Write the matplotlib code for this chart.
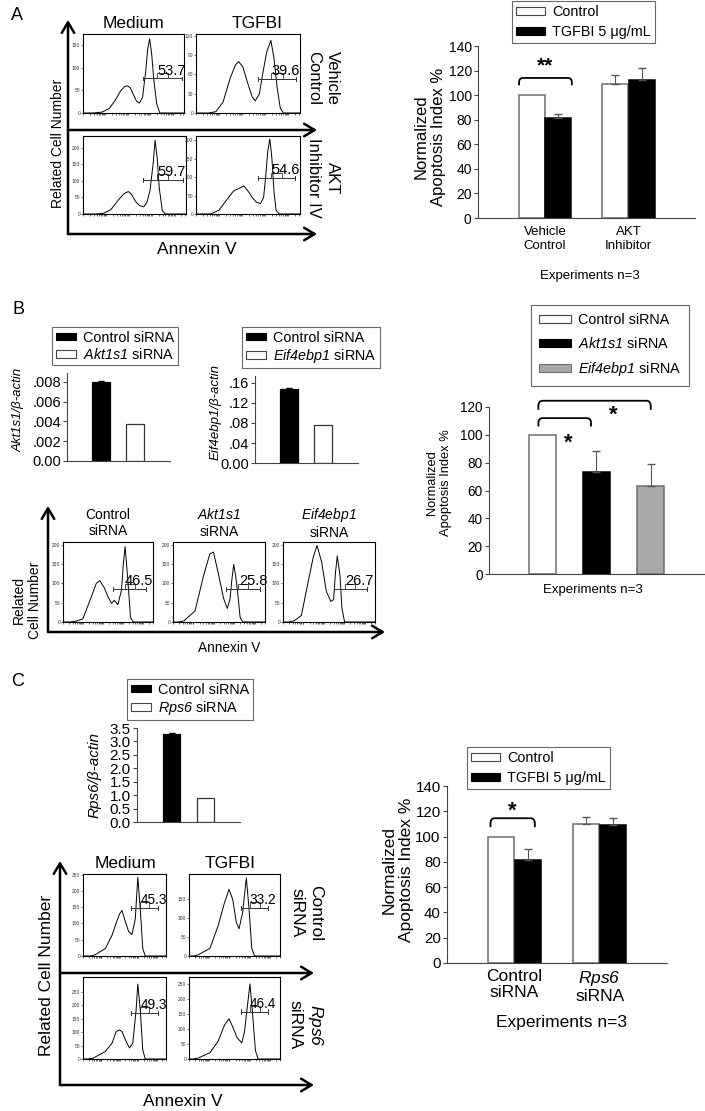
import matplotlib
matplotlib.use("Agg")
import matplotlib.pyplot as plt
import numpy as np
from matplotlib.patches import FancyArrowPatch, Patch, PathPatch, Rectangle
from matplotlib.path import Path

plt.rcParams.update({
    "font.family": "Liberation Sans",
    "mathtext.fontset": "custom",
    "mathtext.rm": "Liberation Sans",
    "mathtext.it": "Liberation Sans:italic",
    "mathtext.sf": "Liberation Sans:italic",
    "mathtext.bf": "Liberation Sans:bold",
    "axes.linewidth": 0.8,
})

# ---- flow histograms (x = fraction of Annexin V axis, y = cell count) ----
a_med_veh_x = [0, .10, .19, .26, .32, .37, .41, .44, .47, .50, .53, .56, .59, .62, .64, .66, .68, .70, .73, .76, 1]
a_med_veh_y = [0, 0, 2, 10, 28, 48, 58, 60, 55, 40, 26, 22, 35, 90, 140, 163, 130, 75, 20, 0, 0]
a_tgf_veh_x = [0, .12, .19, .26, .33, .38, .41, .45, .50, .54, .57, .61, .64, .68, .72, .75, .78, .81, .84, 1]
a_tgf_veh_y = [0, 0, 2, 17, 55, 75, 80, 72, 45, 25, 19, 30, 60, 95, 113, 85, 40, 8, 0, 0]
a_med_akt_x = [0, .12, .20, .27, .35, .40, .44, .47, .51, .55, .59, .62, .65, .68, .70, .72, .74, .77, .80, 1]
a_med_akt_y = [0, 0, 2, 13, 45, 62, 68, 60, 38, 25, 22, 35, 70, 150, 223, 170, 80, 10, 0, 0]
a_tgf_akt_x = [0, .14, .22, .30, .36, .42, .46, .50, .54, .58, .62, .65, .67, .69, .71, .73, .75, .77, .80, 1]
a_tgf_akt_y = [0, 0, 10, 40, 62, 70, 76, 62, 45, 32, 28, 45, 100, 170, 203, 150, 60, 10, 0, 0]

b_ctrl_x = [0, .08, .14, .22, .30, .37, .41, .46, .50, .54, .57, .61, .65, .67, .69, .72, .75, .78, 1]
b_ctrl_y = [0, 0, 2, 8, 56, 100, 107, 88, 65, 48, 56, 45, 83, 150, 195, 110, 12, 0, 0]
b_akt_x = [0, .06, .12, .24, .33, .40, .44, .49, .55, .59, .62, .64, .66, .68, .70, .73, .76, 1]
b_akt_y = [0, 0, 3, 29, 118, 176, 181, 128, 61, 35, 60, 110, 149, 120, 83, 11, 0, 0]
b_eif_x = [0, .06, .12, .20, .27, .33, .37, .42, .47, .52, .55, .57, .59, .62, .64, .67, 1]
b_eif_y = [0, 0, 3, 17, 100, 169, 198, 155, 80, 53, 58, 127, 171, 119, 36, 0, 0]

c_med_ctrl_x = [0, .08, .14, .27, .35, .41, .44, .47, .50, .55, .59, .63, .66, .69, .72, .75, 1]
c_med_ctrl_y = [0, 0, 3, 23, 64, 109, 129, 140, 114, 75, 66, 114, 242, 145, 23, 0, 0]
c_tgf_ctrl_x = [0, .05, .10, .23, .32, .39, .44, .48, .52, .55, .59, .63, .66, .69, .72, 1]
c_tgf_ctrl_y = [0, 0, 3, 20, 80, 141, 176, 150, 89, 72, 116, 207, 124, 20, 0, 0]
c_med_rps_x = [0, .06, .12, .27, .35, .40, .44, .47, .52, .56, .60, .64, .66, .69, .72, .75, 1]
c_med_rps_y = [0, 0, 3, 28, 59, 102, 108, 102, 65, 41, 59, 183, 279, 183, 34, 0, 0]
c_tgf_rps_x = [0, .05, .10, .23, .32, .39, .44, .48, .53, .58, .61, .65, .67, .70, .73, .76, 1]
c_tgf_rps_y = [0, 0, 3, 21, 59, 113, 134, 107, 70, 54, 91, 198, 250, 145, 28, 0, 0]

# gates: (start, end, height) and gate percentages
gates_a = [(.59, .98, 76), (.60, .96, 53), (.58, .97, 103), (.60, .95, 97)]
pct_a = ["53.7", "39.6", "59.7", "54.6"]
gates_b = [(.56, .92, 85), (.58, .95, 85), (.55, .91, 85)]
pct_b = ["46.5", "25.8", "26.7"]
gates_c = [(.58, .90, 148), (.57, .87, 128), (.58, .90, 172), (.57, .87, 158)]
pct_c = ["45.3", "33.2", "49.3", "46.4"]

# ---- bar data ----
a_groups = ["Vehicle\nControl", "AKT\nInhibitor"]
a_ctrl = [100, 109]
a_ctrl_err = [0, 7]
a_tgfbi = [81, 112.5]
a_tgfbi_err = [4, 10]

b_akt1s1_expr = [0.008, 0.0037]
b_akt1s1_err = [0.0001, 0]
b_eif_expr = [0.148, 0.076]
b_eif_err = [0.003, 0]
b_apop = [100, 73.5, 63.5]
b_apop_err = [0, 15, 15.5]

c_rps6_expr = [3.28, 0.88]
c_rps6_err = [0.03, 0]
c_groups = ["Control\nsiRNA", "$\\mathsf{Rps6}$\nsiRNA"]
c_ctrl = [100, 110]
c_ctrl_err = [0, 5.5]
c_tgfbi = [81.5, 109]
c_tgfbi_err = [8.5, 6]

W, H = 705, 1111
fig = plt.figure(figsize=(W / 100, H / 100), dpi=100)
GRAY_EDGE = "#6e6e6e"


def box(x0, y0, x1, y1):
    return [x0 / W, 1 - y1 / H, (x1 - x0) / W, (y1 - y0) / H]


def ftext(x, y, s, **kw):
    kw.setdefault("ha", "center")
    kw.setdefault("va", "center")
    fig.text(x / W, 1 - y / H, s, **kw)


def arrow(x0, y0, x1, y1, lw=1.8):
    fig.add_artist(FancyArrowPatch(
        (x0 / W, 1 - y0 / H), (x1 / W, 1 - y1 / H), transform=fig.transFigure,
        arrowstyle="->,head_length=0.5,head_width=0.3", mutation_scale=15,
        lw=lw, color="black", shrinkA=0, shrinkB=0))


def histo(rect, xs, ys, ytop, yticks, gate, pct, fs):
    ax = fig.add_axes(box(*rect))
    ax.plot(xs, ys, color="black", lw=0.7)
    ax.set_xlim(0, 1)
    ax.set_ylim(0, ytop)
    ax.set_yticks(yticks)
    ax.tick_params(axis="y", labelsize=3.5, length=1.5, width=0.4, pad=0.5, labelcolor="#333")
    dec = [(d + np.log10(k)) / 4.5 for d in range(5) for k in range(1, 10)]
    ax.set_xticks([v for v in dec if v <= 1])
    ax.tick_params(axis="x", labelbottom=False, length=1.3, width=0.4)
    lo, hi, gy = gate
    cap = ytop * 0.025
    ax.plot([lo, hi], [gy, gy], color="#333", lw=0.7)
    ax.plot([lo, lo], [gy - cap, gy + cap], color="#333", lw=0.7)
    ax.plot([hi, hi], [gy - cap, gy + cap], color="#333", lw=0.7)
    mid = (lo + hi) / 2
    ax.add_patch(Rectangle((mid - 0.055, gy), 0.11, ytop * 0.07, fill=False, lw=0.6, ec="#333"))
    ax.text(mid - 0.05, gy + ytop * 0.01, pct, fontsize=fs, ha="left", va="bottom")
    return ax


def err_up(ax, xs, ys, errs, color="#555", cap=3):
    keep = [i for i, e in enumerate(errs) if e > 0]
    if keep:
        ax.errorbar([xs[i] for i in keep], [ys[i] for i in keep],
                    yerr=[[0] * len(keep), [errs[i] for i in keep]],
                    fmt="none", ecolor=color, capsize=cap, lw=0.8)


def style_bars(ax, fs):
    for s in ("top", "right"):
        ax.spines[s].set_visible(False)
    for s in ("left", "bottom"):
        ax.spines[s].set_color("#444")
    ax.tick_params(axis="y", labelsize=fs, length=3, width=0.8, color="#444", pad=1.5)
    ax.tick_params(axis="x", length=0)


def bracket(ax, x0, x1, ytop, yhook, rx):
    ry = (ytop - yhook) * 0.6
    verts = [(x0, yhook), (x0, ytop - ry), (x0, ytop), (x0 + rx, ytop),
             (x1 - rx, ytop), (x1, ytop), (x1, ytop - ry), (x1, yhook)]
    codes = [Path.MOVETO, Path.LINETO, Path.CURVE3, Path.CURVE3,
             Path.LINETO, Path.CURVE3, Path.CURVE3, Path.LINETO]
    ax.add_patch(PathPatch(Path(verts, codes), fill=False, lw=1.3, ec="black", clip_on=False))


def legend(handles, labels, x, y, fs, spacing, hlen, pad):
    leg = fig.legend(handles, labels, loc="upper left", bbox_to_anchor=(x / W, 1 - y / H),
                     fontsize=fs, frameon=True, fancybox=False, edgecolor="#444",
                     handlelength=hlen, handleheight=0.45, labelspacing=spacing,
                     borderpad=pad, handletextpad=0.5, borderaxespad=0)
    leg.get_frame().set_linewidth(0.8)


white = Patch(facecolor="white", edgecolor="#444", lw=0.8)
black = Patch(facecolor="black", edgecolor="black", lw=0.8)
grey = Patch(facecolor="#a8a8a8", edgecolor=GRAY_EDGE, lw=0.8)

# ================= Panel A =================
ftext(17, 15, "A", fontsize=13)
histo((83, 34, 184, 113), a_med_veh_x, a_med_veh_y, 174, [0, 50, 100, 150], gates_a[0], pct_a[0], 10.5)
histo((196, 34, 300, 113), a_tgf_veh_x, a_tgf_veh_y, 123, [0, 30, 60, 90, 120], gates_a[1], pct_a[1], 10.5)
histo((83, 136, 186, 214), a_med_akt_x, a_med_akt_y, 236, [0, 50, 100, 150, 200], gates_a[2], pct_a[2], 10.5)
histo((196, 136, 300, 214), a_tgf_akt_x, a_tgf_akt_y, 211, [0, 50, 100, 150, 200], gates_a[3], pct_a[3], 10.5)
arrow(68, 234, 68, 20)
arrow(68, 130, 317, 130)
arrow(68, 234, 317, 234)
ftext(133, 24, "Medium", fontsize=12.5)
ftext(257, 24, "TGFBI", fontsize=12.5)
ftext(323, 78, "Vehicle\nControl", fontsize=12, rotation=270, linespacing=1.3)
ftext(323, 178, "AKT\nInhibitor IV", fontsize=12, rotation=270, linespacing=1.3)
ftext(58, 143, "Related Cell Number", fontsize=10, rotation=90)
ftext(197, 250, "Annexin V", fontsize=12.5)

ax = fig.add_axes(box(478, 46, 695, 218))
xa = np.arange(len(a_groups))
ax.bar(xa - 0.16, a_ctrl, 0.31, color="white", edgecolor=GRAY_EDGE, lw=1.1)
ax.bar(xa + 0.16, a_tgfbi, 0.31, color="black", edgecolor="black", lw=1.1)
err_up(ax, list(xa - 0.16), a_ctrl, a_ctrl_err)
err_up(ax, list(xa + 0.16), a_tgfbi, a_tgfbi_err)
ax.set_xlim(-0.80, 1.79)
ax.set_ylim(0, 140)
ax.set_yticks(range(0, 141, 20))
ax.set_xticks(xa)
ax.set_xticklabels(a_groups, fontsize=9.5, linespacing=1.2)
style_bars(ax, 10)
ax.tick_params(axis="x", pad=6)
bracket(ax, -0.31, 0.32, 114, 108, 0.05)
ax.text(0.0, 124, "**", fontsize=15, ha="center", va="center", fontweight="bold")
ftext(430, 137, "Normalized\nApoptosis Index %", fontsize=12, rotation=90, linespacing=1.15)
ftext(590, 276, "Experiments n=3", fontsize=9.5)
legend([white, black], ["Control", "TGFBI 5 μg/mL"], 512, 1, 10.4, 0.4, 2.0, 0.3)

# ================= Panel B =================
ftext(18, 310, "B", fontsize=13)

ax = fig.add_axes(box(67, 373, 170, 461))
ax.bar([0, 1], b_akt1s1_expr, 0.53, color=["black", "white"], edgecolor=["black", "#333"], lw=0.9)
err_up(ax, [0, 1], b_akt1s1_expr, b_akt1s1_err, color="black", cap=2)
ax.set_xlim(-1.0, 2.03)
ax.set_ylim(0, 0.0089)
ax.set_yticks([0, 0.002, 0.004, 0.006, 0.008])
ax.set_yticklabels(["0.00", ".002", ".004", ".006", ".008"])
ax.set_xticks([])
style_bars(ax, 10.5)
ftext(19, 410, "Akt1s1/β-actin", fontsize=9.5, rotation=90, fontstyle="italic")
legend([black, white], ["Control siRNA", "$\\mathsf{Akt1s1}$ siRNA"], 52, 327, 10.4, 0.15, 1.4, 0.25)

ax = fig.add_axes(box(255, 376, 358, 463))
ax.bar([0, 1], b_eif_expr, 0.53, color=["black", "white"], edgecolor=["black", "#333"], lw=0.9)
err_up(ax, [0, 1], b_eif_expr, b_eif_err, color="black", cap=2)
ax.set_xlim(-1.0, 2.03)
ax.set_ylim(0, 0.174)
ax.set_yticks([0, 0.04, 0.08, 0.12, 0.16])
ax.set_yticklabels(["0.00", ".04", ".08", ".12", ".16"])
ax.set_xticks([])
style_bars(ax, 10.5)
ftext(216, 412, "Eif4ebp1/β-actin", fontsize=9.5, rotation=90, fontstyle="italic")
legend([black, white], ["Control siRNA", "$\\mathsf{Eif4ebp1}$ siRNA"], 242, 327, 10.4, 0.15, 1.4, 0.25)

histo((63, 542, 153, 622), b_ctrl_x, b_ctrl_y, 207, [0, 50, 100, 150, 200], gates_b[0], pct_b[0], 10.5)
histo((173, 542, 265, 622), b_akt_x, b_akt_y, 207, [0, 50, 100, 150, 200], gates_b[1], pct_b[1], 10.5)
histo((283, 542, 375, 622), b_eif_x, b_eif_y, 207, [0, 50, 100, 150, 200], gates_b[2], pct_b[2], 10.5)
ftext(108, 523, "Control\nsiRNA", fontsize=10, linespacing=1.2)
ftext(219, 523, "$\\mathsf{Akt1s1}$\nsiRNA", fontsize=10, linespacing=1.2)
ftext(329, 523, "$\\mathsf{Eif4ebp1}$\nsiRNA", fontsize=10, linespacing=1.2)
arrow(48, 632, 48, 506)
arrow(48, 632, 385, 632)
ftext(27, 600, "Related\nCell Number", fontsize=10, rotation=90, linespacing=1.15)
ftext(229, 648, "Annexin V", fontsize=9.8)

ax = fig.add_axes(box(489, 407, 705, 574))
xb = np.arange(len(b_apop))
ax.bar(xb, b_apop, 0.5, color=["white", "black", "#a8a8a8"], edgecolor=[GRAY_EDGE, "black", GRAY_EDGE], lw=1.1)
err_up(ax, list(xb), b_apop, b_apop_err)
ax.set_xlim(-0.98, 3.0)
ax.set_ylim(0, 120)
ax.set_yticks(range(0, 121, 20))
ax.set_xticks([])
style_bars(ax, 9.8)
bracket(ax, -0.07, 2.0, 124.5, 118, 0.08)
bracket(ax, -0.07, 0.9, 112, 106, 0.08)
ax.text(0.48, 94, "*", fontsize=16, ha="center", va="center", fontweight="bold")
ax.text(1.31, 114, "*", fontsize=16, ha="center", va="center", fontweight="bold")
ftext(439, 483, "Normalized\nApoptosis Index %", fontsize=9.3, rotation=90, linespacing=1.15)
ftext(593, 590, "Experiments n=3", fontsize=9.5)
legend([white, black, grey], ["Control siRNA", "$\\mathsf{Akt1s1}$ siRNA", "$\\mathsf{Eif4ebp1}$ siRNA"],
       531, 305, 10.4, 0.62, 2.2, 0.55)

# ================= Panel C =================
ftext(18, 682, "C", fontsize=13)

ax = fig.add_axes(box(137, 728, 240, 822))
ax.bar([0, 1], c_rps6_expr, 0.5, color=["black", "white"], edgecolor=["black", "#333"], lw=0.9)
err_up(ax, [0, 1], c_rps6_expr, c_rps6_err, color="black", cap=2)
ax.set_xlim(-1.01, 2.0)
ax.set_ylim(0, 3.5)
ax.set_yticks(np.arange(0, 3.51, 0.5))
ax.set_yticklabels([f"{v:.1f}" for v in np.arange(0, 3.51, 0.5)])
ax.set_xticks([])
style_bars(ax, 11)
ftext(95, 775, "Rps6/β-actin", fontsize=11, rotation=90, fontstyle="italic")
legend([black, white], ["Control siRNA", "$\\mathsf{Rps6}$ siRNA"], 127, 679, 10.4, 0.15, 1.4, 0.25)

histo((83, 874, 166, 956), c_med_ctrl_x, c_med_ctrl_y, 252, [0, 50, 100, 150, 200, 250], gates_c[0], pct_c[0], 9.8)
histo((189, 874, 280, 956), c_tgf_ctrl_x, c_tgf_ctrl_y, 217, [0, 50, 100, 150], gates_c[1], pct_c[1], 9.8)
histo((83, 977, 166, 1059), c_med_rps_x, c_med_rps_y, 305, [0, 50, 100, 150, 200, 250], gates_c[2], pct_c[2], 9.8)
histo((189, 977, 280, 1059), c_tgf_rps_x, c_tgf_rps_y, 273, [0, 50, 100, 150, 200, 250], gates_c[3], pct_c[3], 9.8)
arrow(60, 1085, 60, 861)
arrow(60, 973, 314, 973)
arrow(60, 1085, 314, 1085)
ftext(125, 863, "Medium", fontsize=12.5)
ftext(230, 863, "TGFBI", fontsize=12.5)
ftext(306, 913, "Control\nsiRNA", fontsize=12.5, rotation=270, linespacing=1.3)
ftext(306, 1025, "$\\mathsf{Rps6}$\nsiRNA", fontsize=12.5, rotation=270, linespacing=1.3)
ftext(47, 975, "Related Cell Number", fontsize=12.5, rotation=90)
ftext(183, 1102, "Annexin V", fontsize=12.5)

ax = fig.add_axes(box(447, 786, 667, 963))
xc = np.arange(len(c_groups))
ax.bar(xc - 0.16, c_ctrl, 0.31, color="white", edgecolor=GRAY_EDGE, lw=1.1)
ax.bar(xc + 0.16, c_tgfbi, 0.31, color="black", edgecolor="black", lw=1.1)
err_up(ax, list(xc - 0.16), c_ctrl, c_ctrl_err)
err_up(ax, list(xc + 0.16), c_tgfbi, c_tgfbi_err)
ax.set_xlim(-0.79, 1.79)
ax.set_ylim(0, 140)
ax.set_yticks(range(0, 141, 20))
ax.set_xticks(xc)
ax.set_xticklabels(c_groups, fontsize=12.5, linespacing=1.1)
style_bars(ax, 10.8)
ax.tick_params(axis="x", pad=4)
bracket(ax, -0.28, 0.24, 114.5, 107.5, 0.05)
ax.text(-0.02, 120, "*", fontsize=16, ha="center", va="center", fontweight="bold")
ftext(398, 870, "Normalized\nApoptosis Index %", fontsize=12.5, rotation=90, linespacing=1.15)
ftext(562, 1022, "Experiments n=3", fontsize=12.5)
legend([white, black], ["Control", "TGFBI 5 μg/mL"], 467, 747, 10.4, 0.4, 2.0, 0.3)

fig.savefig("out.png", dpi=100)
